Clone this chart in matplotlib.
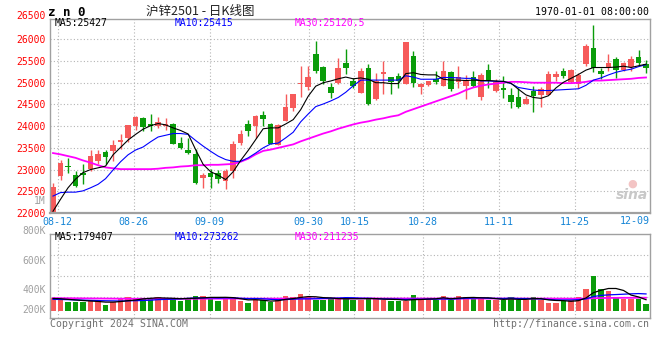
import numpy as np
import matplotlib
matplotlib.use('Agg')
import matplotlib.pyplot as plt

# daily candles, 08-09 .. 12-09
opens = [21950, 22850, 23090, 22880, 22910, 23010, 23190, 23400, 23420, 23630,
         23720, 24000, 24180, 24060, 24000, 24010, 24060, 23620, 23450, 23370,
         22810, 22930, 22930, 22740, 22970, 23620, 24060, 24000, 24250, 24060,
         23570, 24120, 24420, 24970, 24890, 25650, 25370, 24910, 24990, 25460,
         25050, 24770, 25340, 24620, 25190, 25120, 25160, 24970, 25610, 24890,
         24950, 25080, 24930, 25240, 25010, 24930, 25140, 24660, 25300, 24800,
         24880, 24720, 24670, 24520, 24810, 24720, 24720, 25140, 25260, 25010,
         24970, 25430, 25810, 25260, 25370, 25540, 25290, 25370, 25600, 25420]
closes = [22600, 23140, 23060, 22630, 22880, 23310, 23350, 23280, 23560, 23670,
          24020, 24210, 23970, 24010, 24100, 24060, 23600, 23500, 23390, 22690,
          22870, 22820, 22780, 22960, 23580, 23830, 23890, 24240, 24160, 23590,
          24030, 24450, 24730, 25000, 25120, 25270, 25040, 24770, 25350, 25330,
          24930, 25280, 24520, 25050, 25240, 25010, 25050, 25930, 25000, 24980,
          25030, 25010, 25280, 24850, 25140, 25060, 24930, 25180, 25050, 25010,
          24840, 24560, 24450, 24630, 24700, 24850, 25210, 25210, 25160, 25290,
          25180, 25840, 25350, 25200, 25460, 25290, 25460, 25550, 25460, 25350]
highs = [22700, 23230, 23270, 22970, 23120, 23440, 23440, 23440, 23680, 23810,
         24020, 24230, 24210, 24280, 24200, 24180, 24070, 23760, 23720, 23470,
         22930, 23010, 22980, 23010, 23660, 23910, 24140, 24250, 24340, 24070,
         24040, 24750, 24750, 25390, 25390, 25950, 25380, 25000, 25560, 25780,
         25110, 25350, 25440, 25230, 25500, 25140, 25230, 25940, 25730, 25000,
         25040, 25260, 25500, 25280, 25390, 25180, 25280, 25230, 25440, 25080,
         25150, 24880, 24880, 24700, 24920, 24900, 25260, 25280, 25340, 25310,
         25230, 25880, 26330, 25350, 25670, 25590, 25480, 25620, 25750, 25520]
lows = [21900, 22760, 22930, 22600, 22660, 22970, 23120, 23120, 23200, 23470,
        23640, 23920, 23890, 23890, 23950, 23920, 23600, 23480, 23370, 22660,
        22570, 22570, 22680, 22550, 22800, 23570, 23780, 23720, 24010, 23580,
        23560, 24110, 24350, 24660, 24830, 25230, 24980, 24640, 24980, 25210,
        24880, 24760, 24480, 24600, 24750, 24750, 24880, 24960, 24900, 24750,
        24930, 24970, 24920, 24810, 24880, 24620, 24890, 24600, 24880, 24780,
        24640, 24420, 24420, 24510, 24320, 24450, 24710, 25050, 25110, 25000,
        24880, 25390, 25250, 25080, 25270, 25100, 25260, 25280, 25410, 25230]

ma5 = [22040, 22315, 22580, 22780, 22930, 23000, 23040, 23080, 23340, 23510,
       23680, 23810, 23930, 24010, 24060, 24030, 23960, 23900, 23820, 23460,
       23120, 22950, 22870, 22770, 22950, 23210, 23440, 23690, 23940, 23960,
       23960, 24050, 24150, 24380, 24690, 24920, 25000, 25040, 25090, 25130,
       25090, 25110, 25080, 25000, 25000, 24980, 24980, 25210, 25230, 25190,
       25180, 25180, 25080, 25060, 25060, 25050, 25060, 25050, 25050, 25040,
       25030, 24990, 24850, 24720, 24660, 24640, 24700, 24880, 25010, 25100,
       25190, 25290, 25350, 25350, 25350, 25360, 25380, 25350, 25390, 25427]
ma10 = [22390, 22470, 22480, 22480, 22510, 22580, 22660, 22790, 22990, 23180,
        23340, 23450, 23520, 23640, 23750, 23790, 23830, 23830, 23810, 23670,
        23540, 23420, 23310, 23230, 23190, 23190, 23270, 23380, 23500, 23590,
        23610, 23730, 23860, 24100, 24280, 24450, 24510, 24580, 24660, 24780,
        24930, 25060, 25060, 25060, 25060, 25060, 25060, 25160, 25130, 25080,
        25080, 25080, 25120, 25120, 25110, 25100, 25100, 25040, 25040, 25030,
        25030, 24980, 24890, 24860, 24830, 24820, 24820, 24830, 24840, 24850,
        24860, 24940, 25060, 25110, 25180, 25240, 25280, 25310, 25370, 25415]
ma30 = [23380, 23350, 23310, 23270, 23210, 23160, 23100, 23050, 23030, 23010,
        23010, 23010, 23010, 23010, 23020, 23040, 23050, 23070, 23080, 23100,
        23100, 23110, 23110, 23120, 23130, 23180, 23250, 23350, 23430, 23460,
        23500, 23540, 23580, 23650, 23710, 23770, 23830, 23880, 23940, 23990,
        24040, 24080, 24110, 24150, 24180, 24220, 24250, 24330, 24390, 24450,
        24510, 24570, 24630, 24690, 24750, 24830, 24890, 24930, 24960, 24980,
        25000, 25020, 25020, 25010, 25000, 25000, 25000, 25000, 24990, 24990,
        25000, 25020, 25050, 25050, 25060, 25070, 25080, 25090, 25110, 25120.5]

# volume, thousands of lots
volume = [201, 190, 147, 147, 147, 157, 157, 92, 147, 190,
          228, 212, 190, 190, 228, 212, 190, 157, 212, 244,
          244, 228, 157, 217, 217, 157, 130, 174, 174, 147,
          190, 244, 228, 272, 217, 174, 174, 201, 212, 212,
          174, 174, 212, 212, 174, 157, 157, 157, 255, 190,
          190, 174, 244, 174, 244, 228, 190, 212, 174, 174,
          174, 228, 174, 174, 228, 174, 130, 130, 157, 174,
          228, 348, 565, 348, 320, 228, 190, 190, 190, 109]
vol_ma5 = [200, 195, 185, 175, 166, 158, 151, 140, 140, 149,
           163, 174, 193, 202, 210, 206, 202, 195, 200, 203,
           209, 217, 217, 218, 213, 195, 176, 179, 170, 156,
           163, 186, 197, 216, 230, 227, 213, 208, 196, 195,
           195, 195, 197, 197, 189, 186, 182, 171, 180, 183,
           190, 193, 211, 194, 205, 213, 216, 210, 210, 196,
           185, 192, 185, 185, 196, 196, 176, 167, 164, 153,
           164, 207, 294, 333, 362, 362, 330, 255, 224, 179.4]
vol_ma10 = [185, 183, 180, 176, 172, 168, 165, 162, 160, 158,
            161, 163, 167, 171, 180, 185, 188, 194, 201, 207,
            208, 210, 206, 209, 208, 202, 197, 198, 194, 185,
            179, 181, 188, 193, 193, 195, 200, 203, 206, 213,
            211, 204, 203, 197, 192, 191, 189, 184, 189, 186,
            188, 188, 191, 187, 194, 202, 205, 211, 202, 201,
            199, 204, 198, 198, 196, 191, 184, 176, 175, 175,
            180, 192, 231, 249, 258, 263, 269, 275, 279, 273.3]
vol_ma30 = [205, 204, 203, 202, 201, 200, 199, 198, 197, 196,
            195, 195, 195, 194, 194, 194, 194, 194, 194, 195,
            195, 196, 196, 196, 197, 197, 197, 197, 197, 197,
            197, 198, 198, 198, 199, 199, 199, 199, 199, 200,
            200, 200, 200, 200, 199, 199, 199, 199, 199, 199,
            199, 199, 199, 199, 198, 198, 198, 198, 198, 198,
            198, 198, 198, 198, 198, 198, 198, 197, 197, 196,
            196, 198, 203, 206, 208, 209, 210, 210, 211, 211.2]

date_labels = ['08-12', '08-26', '09-09', '09-30', '10-15', '10-28', '11-11', '11-25']
date_index = [1, 11, 21, 34, 40, 49, 59, 69]
price_ticks = [22000, 22500, 23000, 23500, 24000, 24500, 25000, 25500, 26000]

RED = '#f65a5a'
GREEN = '#0a9c0a'
TICKBLUE = '#1585d6'
GRID = '#b4b4b4'
EDGE = '#a0a0a0'
MONO = 'DejaVu Sans Mono'
W, H = 660, 360

fig = plt.figure(figsize=(6.6, 3.6), dpi=100)


def box(l, t, r, b):
    return [l / W, 1 - b / H, (r - l) / W, (b - t) / H]


def ftext(px, py, s, **kw):
    fig.text(px / W, 1 - py / H, s, **kw)


ax = fig.add_axes(box(50, 19, 650, 213))
axv = fig.add_axes(box(50, 234, 650, 318))

x = np.arange(len(closes))
o = np.array(opens)
c = np.array(closes)
cols = np.where(c >= o, RED, GREEN)

# candles
ax.vlines(x, lows, highs, colors=cols, lw=1, zorder=2)
ax.bar(x, np.maximum(np.abs(c - o), 25), bottom=np.minimum(o, c),
       width=0.74, color=cols, lw=0, zorder=2)
ax.plot(x, ma30, color='#ff00ff', lw=1.3, zorder=3)
ax.plot(x, ma10, color='#0000ff', lw=0.8, zorder=3)
ax.plot(x, ma5, color='black', lw=0.8, zorder=3)

# volume
vol = np.array(volume) * 1000
axv.bar(x, vol, width=0.74, color=cols, lw=0, zorder=2)
axv.plot(x, np.array(vol_ma30) * 1000, color='#ff00ff', lw=1.3, zorder=3)
axv.plot(x, np.array(vol_ma10) * 1000, color='#0000ff', lw=0.9, zorder=3)
axv.plot(x, np.array(vol_ma5) * 1000, color='black', lw=0.9, zorder=3)

# sina draws the date grid on a slightly wider step than the candles
grid_x = [1.0128 * i - 0.374 for i in date_index]

for a in (ax, axv):
    a.set_xlim(-0.4, 79.53)
    a.set_xticks(grid_x)
    a.grid(True, color=GRID, ls=(0, (1, 2)), lw=0.8, zorder=0)
    a.tick_params(length=0)
    for s in a.spines.values():
        s.set_color(EDGE)
        s.set_linewidth(1)

ax.set_ylim(22000, 26467)
ax.set_yticks(price_ticks)
ax.set_yticklabels([str(v) for v in price_ticks], color='red', family=MONO, fontsize=7)
ax.tick_params(axis='y', pad=3)
ax.set_xticklabels(date_labels, color=TICKBLUE, family=MONO, fontsize=7.2)
ax.tick_params(axis='x', pad=3)
ax.spines['bottom'].set_linewidth(1.6)
ax.text(1.0, -0.014, '12-09', transform=ax.transAxes, ha='right', va='top',
        color=TICKBLUE, family=MONO, fontsize=7.2)

lo, hi = -119000, 1250000
axv.set_ylim(lo, hi)
axv.set_yticks(np.linspace(lo, hi, 5)[1:-1])
axv.set_yticklabels([])
axv.set_xticklabels([])

# header and labels
ftext(46, 16, '26500', color='red', family=MONO, fontsize=7, ha='right', va='center')
ftext(48, 12, 'z n 0', color='black', family=MONO, fontsize=9, weight='bold', va='center')
ftext(200, 11, '沪锌2501 - 日K线图', color='#222222', fontsize=9, ha='center', va='center',
      family=['Noto Sans CJK SC', 'DejaVu Sans'])
ftext(649, 12, '1970-01-01 08:00:00', color='black', family=MONO, fontsize=7.1, ha='right', va='center')

ftext(55, 23.5, 'MA5:25427', color='black', family=MONO, fontsize=7, va='center')
ftext(175, 23.5, 'MA10:25415', color='#0000ff', family=MONO, fontsize=7, va='center')
ftext(295, 23.5, 'MA30:25120.5', color='#ff00ff', family=MONO, fontsize=7, va='center')

ftext(55, 237.5, 'MA5:179407', color='black', family=MONO, fontsize=7, va='center')
ftext(175, 237.5, 'MA10:273262', color='#0000ff', family=MONO, fontsize=7, va='center')
ftext(295, 237.5, 'MA30:211235', color='#ff00ff', family=MONO, fontsize=7, va='center')

for lbl, py in [('1M', 201), ('800K', 231), ('600K', 261), ('400K', 290), ('200K', 310)]:
    ftext(46, py, lbl, color='#a0a0a0', family=MONO, fontsize=7, ha='right', va='center')

ftext(50, 324, 'Copyright 2024 SINA.COM', color='#707070', family=MONO, fontsize=7.1, va='center')
ftext(649, 324, 'http://finance.sina.com.cn', color='#707070', family=MONO, fontsize=7.1,
      ha='right', va='center')

# watermark
ftext(648, 195, 'sina', color='#c8c8c8', fontsize=10, weight='bold', style='italic',
      ha='right', va='center')
ftext(632, 184, '●', color='#f3c4c4', fontsize=8, ha='center', va='center')

fig.savefig('out.png', dpi=100)
